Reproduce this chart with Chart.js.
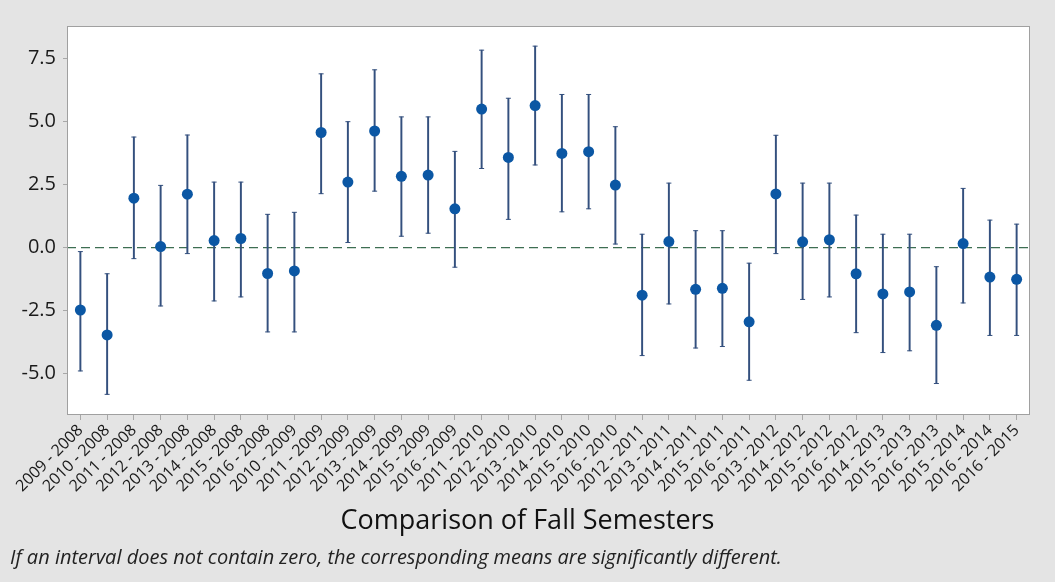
<!DOCTYPE html>
<html>
<head>
<meta charset="utf-8">
<title>Comparison of Fall Semesters</title>
<script src="https://cdn.jsdelivr.net/npm/chart.js@4.4.0/dist/chart.umd.min.js"></script>
<style>
    html, body { margin: 0; padding: 0; background: #e4e4e4; }
    #wrap { width: 1055px; height: 582px; }
</style>
</head>
<body>
<div id="wrap"><canvas id="intervalChart" width="1055" height="582"></canvas></div>
<script>
// ===== Data =====
const categories = [
    '2009 - 2008', '2010 - 2008', '2011 - 2008', '2012 - 2008', '2013 - 2008', '2014 - 2008',
    '2015 - 2008', '2016 - 2008', '2010 - 2009', '2011 - 2009', '2012 - 2009', '2013 - 2009',
    '2014 - 2009', '2015 - 2009', '2016 - 2009', '2011 - 2010', '2012 - 2010', '2013 - 2010',
    '2014 - 2010', '2015 - 2010', '2016 - 2010', '2012 - 2011', '2013 - 2011', '2014 - 2011',
    '2015 - 2011', '2016 - 2011', '2013 - 2012', '2014 - 2012', '2015 - 2012', '2016 - 2012',
    '2014 - 2013', '2015 - 2013', '2016 - 2013', '2015 - 2014', '2016 - 2014', '2016 - 2015'
];
const meanDiff = [
    -2.48, -3.47, 1.96, 0.04, 2.12, 0.28, 0.36, -1.03, -0.93, 4.57, 2.60, 4.63,
    2.83, 2.88, 1.54, 5.50, 3.58, 5.64, 3.74, 3.81, 2.48, -1.89, 0.24, -1.66,
    -1.62, -2.95, 2.13, 0.23, 0.31, -1.04, -1.84, -1.76, -3.09, 0.16, -1.17, -1.26
];
const lowerCI = [
    -4.90, -5.83, -0.44, -2.32, -0.24, -2.12, -1.96, -3.35, -3.35, 2.14, 0.20, 2.24,
    0.45, 0.57, -0.78, 3.14, 1.12, 3.28, 1.42, 1.54, 0.14, -4.29, -2.24, -3.99,
    -3.93, -5.27, -0.24, -2.06, -1.96, -3.38, -4.17, -4.10, -5.40, -2.20, -3.49, -3.49
];
const upperCI = [
    -0.16, -1.04, 4.39, 2.47, 4.47, 2.60, 2.60, 1.32, 1.40, 6.90, 5.00, 7.06,
    5.19, 5.19, 3.82, 7.84, 5.93, 8.00, 6.08, 6.08, 4.80, 0.53, 2.56, 0.67,
    0.67, -0.62, 4.46, 2.56, 2.56, 1.29, 0.53, 0.53, -0.76, 2.35, 1.09, 0.93
];
const yTickValues = [-5, -2.5, 0, 2.5, 5, 7.5];

const FONT = '"Open Sans", "Noto Sans", sans-serif';

// ===== Plot frame + zero reference line =====
const framePlugin = {
    id: 'frame',
    beforeDraw(chart) {
        const { ctx, chartArea: a } = chart;
        ctx.save();
        ctx.fillStyle = '#e4e4e4';
        ctx.fillRect(0, 0, chart.width, chart.height);
        ctx.fillStyle = '#ffffff';
        ctx.fillRect(a.left, a.top, a.right - a.left, a.bottom - a.top);
        ctx.restore();
    },
    beforeDatasetsDraw(chart) {
        const { ctx, chartArea: a, scales } = chart;
        const y0 = scales.y.getPixelForValue(0);
        ctx.save();
        ctx.strokeStyle = '#3d6e52';
        ctx.lineWidth = 1.2;
        ctx.setLineDash([9, 5]);
        ctx.beginPath();
        ctx.moveTo(a.left, y0);
        ctx.lineTo(a.right, y0);
        ctx.stroke();
        ctx.restore();
    },
    afterDraw(chart) {
        const { ctx, chartArea: a } = chart;
        ctx.save();
        ctx.strokeStyle = '#a0a0a0';
        ctx.lineWidth = 1;
        ctx.strokeRect(a.left + 0.5, a.top + 0.5, a.right - a.left - 1, a.bottom - a.top - 1);
        ctx.restore();
    }
};

const barColor = '#34507e';
const dotColor = '#0b57a4';

new Chart(document.getElementById('intervalChart'), {
    type: 'bar',
    data: {
        labels: categories,
        datasets: [
            {
                type: 'line',
                data: meanDiff,
                showLine: false,
                pointRadius: 5.5,
                pointBackgroundColor: dotColor,
                pointBorderColor: dotColor,
                pointBorderWidth: 0,
                order: 0
            },
            {
                type: 'line',
                data: upperCI,
                showLine: false,
                pointStyle: 'line',
                pointRadius: 2.5,
                pointBorderColor: barColor,
                pointBorderWidth: 1,
                order: 1
            },
            {
                type: 'line',
                data: lowerCI,
                showLine: false,
                pointStyle: 'line',
                pointRadius: 2.5,
                pointBorderColor: barColor,
                pointBorderWidth: 1,
                order: 1
            },
            {
                type: 'bar',
                data: categories.map((c, i) => [lowerCI[i], upperCI[i]]),
                backgroundColor: barColor,
                borderWidth: 0,
                barThickness: 1.3,
                grouped: false,
                order: 2
            }
        ]
    },
    options: {
        responsive: false,
        animation: false,
        events: [],
        layout: { padding: { left: 10, right: 10, top: 26, bottom: 12 } },
        plugins: {
            legend: { display: false },
            tooltip: { enabled: false },
            title: {
                display: true,
                text: 'Comparison of Fall Semesters',
                position: 'bottom',
                color: '#111',
                font: { family: FONT, size: 27, weight: 'normal' },
                padding: { top: 0, bottom: 0 }
            },
            subtitle: {
                display: true,
                text: 'If an interval does not contain zero, the corresponding means are significantly different.',
                position: 'bottom',
                align: 'start',
                weight: 3000,
                color: '#222',
                font: { family: FONT, size: 20, style: 'italic', weight: 'normal' },
                padding: { top: 8.6, bottom: 0 }
            }
        },
        scales: {
            x: {
                offset: true,
                border: { display: false },
                grid: { drawOnChartArea: false, offset: false, tickLength: 5, color: '#a8a8a8' },
                ticks: {
                    autoSkip: false,
                    maxRotation: 45,
                    minRotation: 45,
                    padding: 1,
                    color: '#1a1a1a',
                    font: { family: FONT, size: 16 }
                },
                afterFit(s) { s.height = 90; }
            },
            y: {
                min: -6.65,
                max: 8.8,
                border: { display: false },
                grid: { drawOnChartArea: false, tickLength: 4, color: '#a8a8a8' },
                afterBuildTicks(s) { s.ticks = yTickValues.map(v => ({ value: v })); },
                ticks: {
                    padding: 7,
                    color: '#1a1a1a',
                    font: { family: FONT, size: 20 },
                    callback: v => v.toFixed(1)
                },
                afterFit(s) { s.width = 57; }
            },
            y2: {
                position: 'right',
                display: true,
                border: { display: false },
                grid: { display: false },
                ticks: { display: false },
                afterFit(s) { s.width = 15; }
            }
        }
    },
    plugins: [framePlugin]
});
</script>
</body>
</html>
